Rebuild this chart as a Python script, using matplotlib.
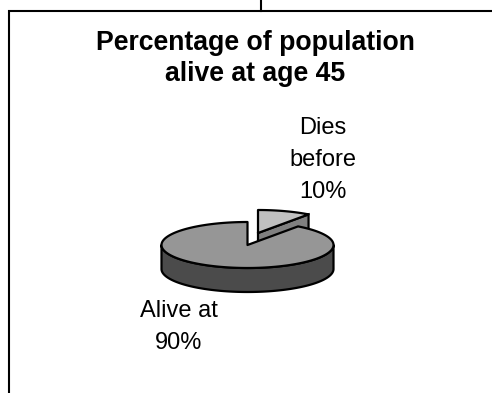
import numpy as np
import matplotlib
matplotlib.use("Agg")
import matplotlib.pyplot as plt

plt.rcParams['font.family'] = ['Liberation Sans', 'DejaVu Sans']

slice_values = [10, 90]
slice_tops = ['#c0c0c0', '#969696']
slice_sides = ['#808080', '#4b4b4b']

title_lines = ['Percentage of population', 'alive at age 45']
dies_lines = ['Dies', 'before', '10%']
alive_lines = ['Alive at', '90%']

CX, CY = 247.5, 245
RX, RY = 86, 23
DEPTH = 24
EDGE = '#000000'
LW = 1.6


def rim(cx, cy, a0, a1, n=120):
    t = np.radians(np.linspace(a0, a1, n))
    return cx + RX * np.cos(t), cy - RY * np.sin(t)


def draw_pie(ax):
    a_top = 90
    a_cut = a_top - 360 * slice_values[0] / sum(slice_values)

    # exploded small slice sits behind the main body
    ox, oy = CX + 10.5, CY - 12
    x, y = rim(ox, oy, a_cut, a_top)
    ax.fill([ox, x[0], x[0], ox], [oy, y[0], y[0] + DEPTH, oy + DEPTH],
            facecolor=slice_sides[0], edgecolor=EDGE, lw=LW, zorder=2)
    ax.fill(np.r_[ox, x], np.r_[oy, y], facecolor=slice_tops[0], edgecolor=EDGE,
            lw=LW, joinstyle='round', zorder=3)

    # main slice wall and face
    xs, ys = rim(CX, CY, 180, 360)
    ax.fill(np.r_[xs, xs[::-1]], np.r_[ys, ys[::-1] + DEPTH], facecolor=slice_sides[1],
            edgecolor=EDGE, lw=LW, joinstyle='round', zorder=4)
    x, y = rim(CX, CY, a_top, a_cut + 360, 240)
    ax.fill(np.r_[CX, x], np.r_[CY, y], facecolor=slice_tops[1], edgecolor=EDGE,
            lw=LW, joinstyle='round', zorder=5)


def run():
    fig = plt.figure(figsize=(4.92, 3.93), dpi=100, facecolor='white')
    ax = fig.add_axes([0, 0, 1, 1])
    ax.set_xlim(0, 492)
    ax.set_ylim(393, 0)
    ax.axis('off')

    # surrounding organisation chart box
    ax.plot([8.7, 8.7, 492], [393, 10.7, 10.7], color='black', lw=1.5, solid_joinstyle='miter')
    ax.plot([260.5, 260.5], [0, 10.7], color='black', lw=1.5)

    draw_pie(ax)

    for line, yy in zip(title_lines, [50, 81]):
        ax.text(255, yy, line, ha='center', va='baseline', fontsize=19.2, fontweight='bold')
    for line, yy in zip(dies_lines, [134, 166, 198]):
        ax.text(322.5, yy, line, ha='center', va='baseline', fontsize=17)
    for line, yy in zip(alive_lines, [317, 349]):
        ax.text(179, yy, line, ha='center', va='baseline', fontsize=17)

    fig.savefig('out.png', dpi=100)


if __name__ == "__main__":
    run()
